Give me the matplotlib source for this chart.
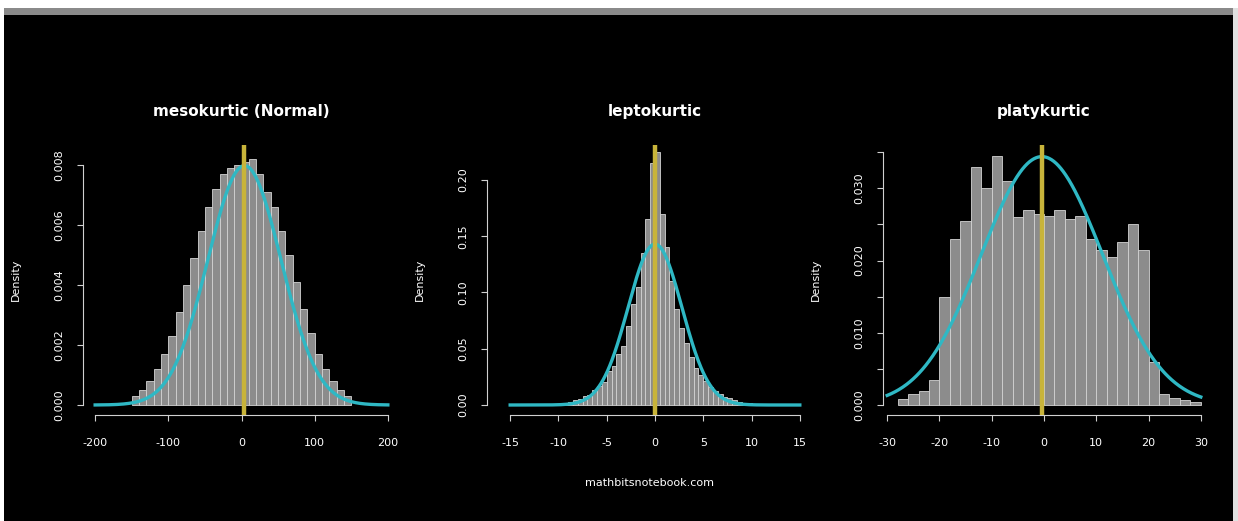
import numpy as np
import matplotlib
matplotlib.use("Agg")
import matplotlib.pyplot as plt
from matplotlib.patches import Rectangle

W, H = 1238, 521

# panel titles
titles = ["mesokurtic (Normal)", "leptokurtic", "platykurtic"]

# mesokurtic histogram (density per bin)
meso_start, meso_width = -150, 10
meso_heights = [0.0003, 0.0005, 0.0008, 0.0012, 0.0017, 0.0023, 0.0031, 0.0040,
                0.0049, 0.0058, 0.0066, 0.0072, 0.0077, 0.0079, 0.0080, 0.0081,
                0.0082, 0.0077, 0.0071, 0.0066, 0.0058, 0.0050, 0.0041, 0.0032,
                0.0024, 0.0017, 0.0012, 0.0008, 0.0005, 0.0003]
meso_mean, meso_sd = 4, 50
meso_xticks = [-200, -100, 0, 100, 200]
meso_yticks = [0.000, 0.002, 0.004, 0.006, 0.008]
meso_ylabels = ["0.000", "0.002", "0.004", "0.006", "0.008"]

# leptokurtic histogram
lepto_start, lepto_width = -10, 0.5
lepto_heights = [0.001, 0.002, 0.003, 0.004, 0.005, 0.008, 0.009, 0.013, 0.017, 0.020,
                 0.030, 0.035, 0.045, 0.052, 0.070, 0.090, 0.105, 0.135, 0.165, 0.215,
                 0.225, 0.170, 0.140, 0.110, 0.085, 0.068, 0.055, 0.043, 0.033, 0.027,
                 0.021, 0.016, 0.012, 0.010, 0.007, 0.006, 0.004, 0.003, 0.002, 0.0015]
lepto_mean, lepto_sd = 0, 2.79
lepto_xticks = [-15, -10, -5, 0, 5, 10, 15]
lepto_yticks = [0.00, 0.05, 0.10, 0.15, 0.20]
lepto_ylabels = ["0.00", "0.05", "0.10", "0.15", "0.20"]

# platykurtic histogram
platy_start, platy_width = -28, 2
platy_heights = [0.0008, 0.0015, 0.0020, 0.0035, 0.0150, 0.0230, 0.0255, 0.0330,
                 0.0300, 0.0345, 0.0310, 0.0260, 0.0270, 0.0265, 0.0262, 0.0270,
                 0.0258, 0.0262, 0.0230, 0.0215, 0.0205, 0.0225, 0.0250, 0.0215,
                 0.0060, 0.0015, 0.0010, 0.0007, 0.0004]
platy_mean, platy_sd = -0.4, 11.6
platy_xticks = [-30, -20, -10, 0, 10, 20, 30]
platy_yticks = [0.000, 0.005, 0.010, 0.015, 0.020, 0.025, 0.030, 0.035]
platy_ylabels = ["0.000", "", "0.010", "", "0.020", "", "0.030", ""]

source = "mathbitsnotebook.com"

fig = plt.figure(figsize=(W / 100, H / 100), dpi=100, facecolor="black")

# white / gray border strips at the top and sides
fig.add_artist(Rectangle((0, 1 - 8 / H), 1, 8 / H, transform=fig.transFigure,
                         facecolor="white", edgecolor="none"))
fig.add_artist(Rectangle((0, 1 - 15 / H), 1, 7 / H, transform=fig.transFigure,
                         facecolor="#8a8a8a", edgecolor="none"))
fig.add_artist(Rectangle((0, 0), 4 / W, 1, transform=fig.transFigure,
                         facecolor="white", edgecolor="none"))
fig.add_artist(Rectangle((1 - 5 / W, 0), 5 / W, 1 - 8 / H, transform=fig.transFigure,
                         facecolor="#e0e0e0", edgecolor="none"))


def px_axes(left, top, right, bottom):
    return fig.add_axes([left / W, 1 - bottom / H, (right - left) / W, (bottom - top) / H])


panels = [
    dict(box=(83, 145, 400, 415), xlim=(-216.6, 216.6), ylim=(-0.000333, 0.008667),
         start=meso_start, width=meso_width, heights=meso_heights,
         mean=meso_mean, sd=meso_sd, xticks=meso_xticks,
         yticks=meso_yticks, ylabels=meso_ylabels),
    dict(box=(487, 145, 823, 415), xlim=(-17.4, 17.4), ylim=(-0.00889, 0.2311),
         start=lepto_start, width=lepto_width, heights=lepto_heights,
         mean=lepto_mean, sd=lepto_sd, xticks=lepto_xticks,
         yticks=lepto_yticks, ylabels=lepto_ylabels),
    dict(box=(883, 145, 1205, 415), xlim=(-30.8, 30.8), ylim=(-0.001385, 0.0360),
         start=platy_start, width=platy_width, heights=platy_heights,
         mean=platy_mean, sd=platy_sd, xticks=platy_xticks,
         yticks=platy_yticks, ylabels=platy_ylabels),
]

axis_col = "#d0d0d0"

for title, p in zip(titles, panels):
    ax = px_axes(*p["box"])
    ax.set_facecolor("black")
    ax.set_xlim(*p["xlim"])
    ax.set_ylim(*p["ylim"])

    n = len(p["heights"])
    lefts = p["start"] + p["width"] * np.arange(n)
    ax.bar(lefts, p["heights"], width=p["width"], align="edge",
           color="#8c8c8c", edgecolor="#d4d4d4", linewidth=0.6, zorder=2)

    # fitted normal density curve
    xs = np.linspace(p["xticks"][0], p["xticks"][-1], 400)
    ys = np.exp(-0.5 * ((xs - p["mean"]) / p["sd"]) ** 2) / (p["sd"] * np.sqrt(2 * np.pi))
    ax.plot(xs, ys, color="#2fb8c4", linewidth=2.4, zorder=3)
    ax.axvline(p["mean"], color="#c8b43a", linewidth=3.2, zorder=4)

    for s in ["top", "right"]:
        ax.spines[s].set_visible(False)
    for s in ["left", "bottom"]:
        ax.spines[s].set_color(axis_col)
        ax.spines[s].set_linewidth(0.8)
    ax.spines["bottom"].set_bounds(p["xticks"][0], p["xticks"][-1])
    ax.spines["left"].set_bounds(p["yticks"][0], p["yticks"][-1])

    ax.set_xticks(p["xticks"])
    ax.set_xticklabels([str(t) for t in p["xticks"]])
    ax.set_yticks(p["yticks"])
    ax.set_yticklabels(p["ylabels"], rotation=90, va="center")
    ax.tick_params(colors=axis_col, labelcolor="white", labelsize=8,
                   length=4.5, width=0.8)
    ax.tick_params(axis="x", pad=12)
    ax.tick_params(axis="y", pad=9)

    ax.set_title(title, color="white", fontsize=11, fontweight="bold", pad=21)
    ax.set_ylabel("Density", color="white", fontsize=8, labelpad=24)

fig.text(650 / W, 1 - 483 / H, source, color="white", fontsize=8,
         ha="center", va="center")

fig.savefig("out.png", dpi=100, facecolor="black")
